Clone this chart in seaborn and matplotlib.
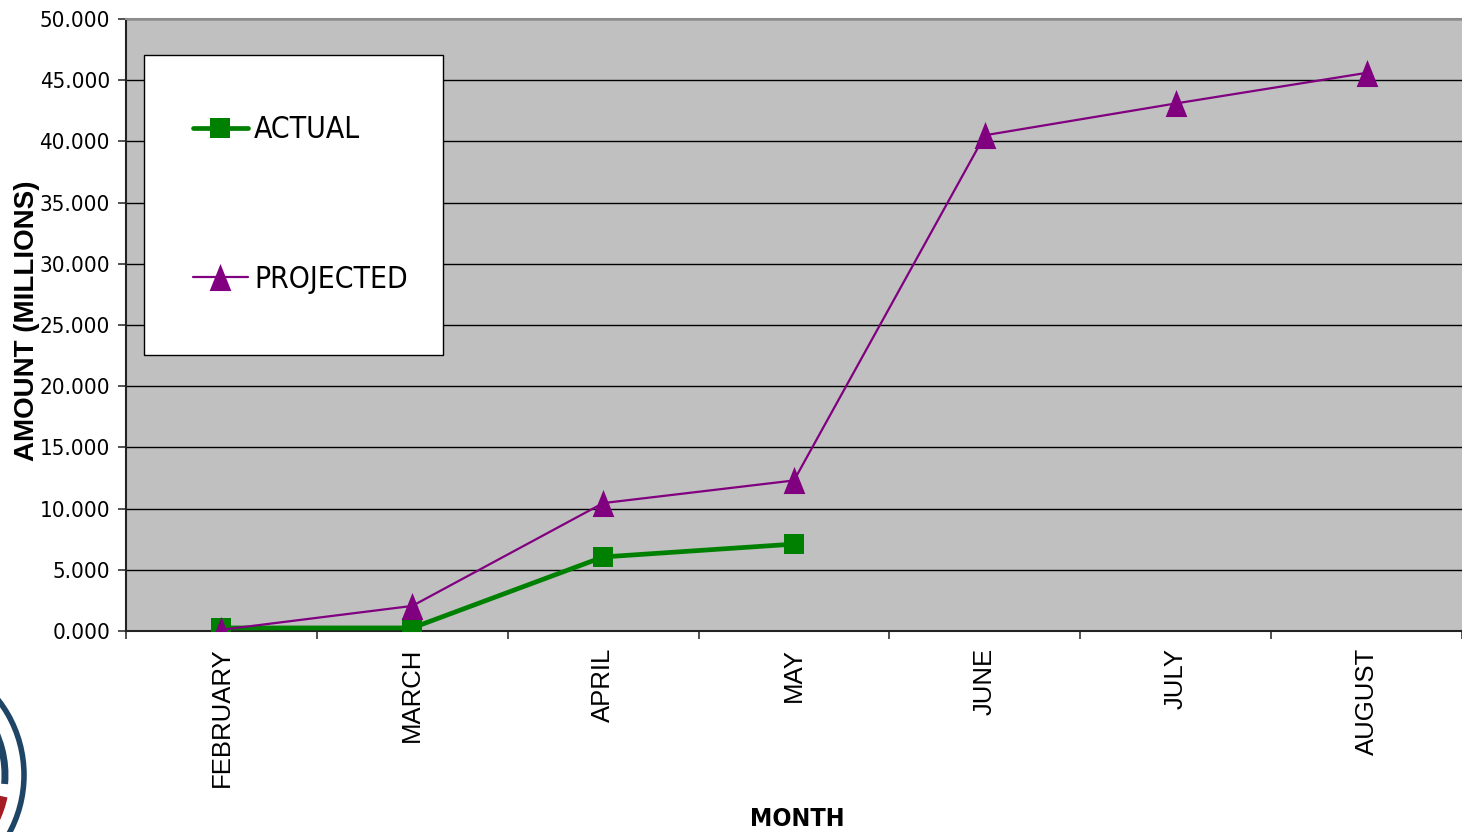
"""
Actual vs projected amounts by month (Excel-style line chart).
"""

import matplotlib
matplotlib.use("Agg")
import matplotlib.pyplot as plt
import matplotlib.ticker as mticker
from matplotlib import font_manager
from matplotlib.patches import Rectangle, Arc
import seaborn as sns
import pandas as pd
import numpy as np

# Data
months = ["FEBRUARY", "MARCH", "APRIL", "MAY", "JUNE", "JULY", "AUGUST"]
actual_months = ["FEBRUARY", "MARCH", "APRIL", "MAY"]
actual_values = [0.25, 0.25, 6.05, 7.1]
projected_values = [0.1, 2.05, 10.45, 12.3, 40.5, 43.1, 45.6]
y_ticks = np.arange(0, 55, 5)

REGULAR = ["Liberation Sans", "DejaVu Sans"]
ENTRIES = font_manager.fontManager.ttflist


def pick_family(stretches, families):
    """Return the first installed (family, stretch) pair from the wish lists."""
    for st in stretches:
        for fam in families:
            if any(f.name == fam and str(f.stretch) == st for f in ENTRIES):
                return fam, st
    return None, "normal"


narrow_family, narrow_stretch = pick_family(
    ["condensed", "semi-condensed"], ["Noto Sans", "DejaVu Sans", "Roboto", "Open Sans"])
if any(f.name == "Liberation Sans Narrow" for f in ENTRIES):
    narrow_family, narrow_stretch = "Liberation Sans Narrow", "normal"
if narrow_family is None:
    narrow_family, narrow_stretch = "Liberation Sans", "normal"

# tick numbers in the reference are squeezed even more than the legend text
tick_family, tick_stretch = pick_family(
    ["extra-condensed", "ultra-condensed"], ["Noto Sans", "Roboto", "Open Sans", "DejaVu Sans"])
tick_size = 18
if tick_family is None:
    tick_family, tick_stretch = narrow_family, narrow_stretch
    tick_size = 16

sns.set_theme(style="white")
plt.rcParams["font.family"] = [narrow_family, "DejaVu Sans"]
plt.rcParams["font.stretch"] = narrow_stretch

actual_df = pd.DataFrame({"month": actual_months, "amount": actual_values})
projected_df = pd.DataFrame({"month": months, "amount": projected_values})

fig = plt.figure(figsize=(14.62, 8.32), dpi=100)
ax = fig.add_axes([126 / 1462, 1 - 631 / 832, 1336 / 1462, 612 / 832])
ax.set_facecolor("#C0C0C0")

tri = [(-0.8, -1.0), (0.8, -1.0), (0.0, 1.0), (-0.8, -1.0)]

sns.lineplot(data=projected_df, x="month", y="amount", ax=ax, color="#800080",
             linewidth=1.6, marker=tri, markersize=19.5, markeredgewidth=0,
             sort=False, label="PROJECTED", zorder=4)
sns.lineplot(data=actual_df, x="month", y="amount", ax=ax, color="#008000",
             linewidth=3.4, marker="s", markersize=14, markeredgewidth=0,
             sort=False, label="ACTUAL", zorder=3)

ax.set_xlim(-0.5, len(months) - 0.5)
ax.set_ylim(0, 50)
ax.set_yticks(y_ticks)
ax.yaxis.set_major_formatter(mticker.FuncFormatter(lambda v, p: f"{v:.3f}"))
ax.grid(axis="y", color="black", linewidth=1.0)
ax.set_axisbelow(True)

# month labels centred, tick marks on category boundaries
ax.set_xticks(range(len(months)))
ax.set_xticklabels(months, rotation=90, family=REGULAR, fontstretch="normal",
                   fontsize=18.5, va="top", ha="center")
ax.set_xticks(np.arange(-0.5, len(months), 1.0), minor=True)
ax.tick_params(axis="x", which="major", length=0, pad=12, colors="black")
ax.tick_params(axis="x", which="minor", length=6, width=1.2, color="#333333",
               direction="out", bottom=True)
ax.tick_params(axis="y", length=6, width=1.2, color="#333333", pad=5.5,
               left=True, labelcolor="black")
for lab in ax.get_yticklabels():
    lab.set_family([tick_family, "DejaVu Sans"])
    lab.set_stretch(tick_stretch)
    lab.set_fontsize(tick_size)

for name in ("left", "bottom"):
    ax.spines[name].set_color("#222222")
    ax.spines[name].set_linewidth(1.5)
ax.spines["top"].set_color("#8C8C8C")
ax.spines["top"].set_linewidth(1.5)
ax.spines["right"].set_visible(False)

ax.set_xlabel("MONTH", fontsize=18, fontweight="bold", color="black", va="center")
ax.xaxis.set_label_coords(0.5025, -(819 - 631) / 612)
ax.set_ylabel("AMOUNT (MILLIONS)", family=REGULAR, fontstretch="normal",
              fontsize=20, fontweight="bold", color="black", va="center")
ax.yaxis.set_label_coords(-(126 - 27) / 1336, (631 - 321) / 612)

# legend box
ax.add_patch(Rectangle((0.0135, 0.451), 0.2238, 0.490, transform=ax.transAxes,
                       facecolor="white", edgecolor="black", linewidth=1.0,
                       zorder=5))
handles, labels = ax.get_legend_handles_labels()
order = [labels.index("ACTUAL"), labels.index("PROJECTED")]
leg = ax.legend([handles[i] for i in order], [labels[i] for i in order],
                loc="center left", bbox_to_anchor=(0.050, 0.697),
                frameon=False, fontsize=21.5, handlelength=1.85,
                handletextpad=0.2, labelspacing=4.05, borderpad=0,
                borderaxespad=0)
leg.set_zorder(6)
for t in leg.get_texts():
    t.set_color("black")

# partial logo at bottom-left corner of the slide (display pixels, origin bottom-left)
fig.add_artist(Arc((-98, 57), 244, 244, theta1=-60, theta2=60,
                   transform=None, color="#1F4566", linewidth=4))
fig.add_artist(Arc((-98, 57), 206, 206, theta1=-5, theta2=35,
                   transform=None, color="#1F4566", linewidth=5))
fig.add_artist(Arc((-98, 57), 206, 206, theta1=-40, theta2=-12,
                   transform=None, color="#A51C24", linewidth=7))

fig.savefig("out.png", dpi=100)
